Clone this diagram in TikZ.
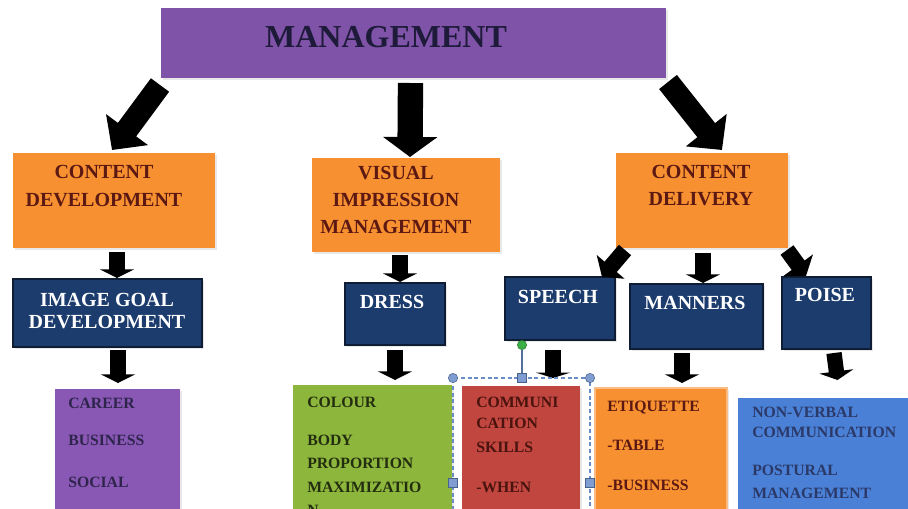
\documentclass[tikz,border=0pt]{standalone}
\usepackage{fontspec}
\setmainfont{Liberation Serif}
\usetikzlibrary{arrows.meta,calc,fit,shadows}

\definecolor{mgmtpurple}{RGB}{127,83,168}
\definecolor{boxorange}{RGB}{247,144,48}
\definecolor{boxnavy}{RGB}{28,60,110}
\definecolor{navyedge}{RGB}{14,28,52}
\definecolor{listpurple}{RGB}{137,88,181}
\definecolor{listgreen}{RGB}{141,182,60}
\definecolor{listred}{RGB}{192,70,63}
\definecolor{listblue}{RGB}{74,128,214}
\definecolor{maroontext}{RGB}{92,24,18}
\definecolor{inktext}{RGB}{30,27,58}
\definecolor{selblue}{RGB}{104,140,200}
\definecolor{handlegreen}{RGB}{60,176,70}

\begin{document}
\begin{tikzpicture}[x=0.75pt,y=-0.75pt,
  box/.style={inner sep=0pt, outer sep=0pt,
    drop shadow={shadow xshift=1.2pt, shadow yshift=-1.2pt, opacity=0.18}},
  navybox/.style={box, fill=boxnavy, draw=navyedge, line width=0.8pt},
  headtext/.style={inner sep=0pt, align=center, text=maroontext,
    font=\fontsize{15pt}{21pt}\selectfont\bfseries},
  navytext/.style={inner sep=0pt, align=center, text=white,
    font=\fontsize{15pt}{16.5pt}\selectfont\bfseries},
  listtext/.style={inner sep=0pt, anchor=base west,
    font=\fontsize{11.8pt}{14pt}\selectfont\bfseries},
  bigarrow/.style={line width=17pt, -{Triangle[length=19pt, width=38pt]}},
  smallarrow/.style={line width=11.5pt, -{Triangle[length=6.5pt, width=25.5pt]}},
  tiltarrow/.style={line width=12pt, -{Triangle[length=10pt, width=27pt]}},
  selline/.style={draw=selblue, line width=0.8pt, dash pattern=on 3pt off 2pt},
  handlecirc/.style={circle, fill=selblue!85, draw=selblue!70!black, line width=0.4pt,
    minimum size=7pt, inner sep=0pt},
  handlesq/.style={rectangle, fill=selblue!85, draw=selblue!70!black, line width=0.4pt,
    minimum size=7pt, inner sep=0pt}
]
\useasboundingbox (0,0) rectangle (908,508);
\clip (0,0) rectangle (908,508);
\fill[white] (0,0) rectangle (908,508);

% top level
\node[box, fill=mgmtpurple, fit={(161,8) (666,78)}] (mgmt) {};
\node[inner sep=0pt, text=inktext, font=\fontsize{24pt}{26pt}\selectfont\bfseries]
  (mgmtlbl) at (386,37) {MANAGEMENT};

% second level
\node[box, fill=boxorange, fit={(13,153) (215,248)}] (cdev) {};
\node[box, fill=boxorange, fit={(312,158) (500,252)}] (vim) {};
\node[box, fill=boxorange, fit={(616,153) (788,248)}] (cdel) {};
\node[headtext] (cdevlbl) at (104,186) {CONTENT\\DEVELOPMENT};
\node[headtext, font=\fontsize{15pt}{20.3pt}\selectfont\bfseries]
  (vimlbl) at (396,200) {VISUAL\\IMPRESSION\\MANAGEMENT};
\node[headtext, font=\fontsize{15pt}{20.3pt}\selectfont\bfseries]
  (cdellbl) at (701,185.5) {CONTENT\\DELIVERY};

% third level
\node[navybox, fit={(13,279) (202,347)}] (igd) {};
\node[navybox, fit={(345,283) (445,345)}] (dress) {};
\node[navybox, fit={(505,277) (615,340)}] (speech) {};
\node[navybox, fit={(630,284) (763,349)}] (manners) {};
\node[navybox, fit={(782,277) (871,349)}] (poise) {};
\node[navytext] (igdlbl) at (107,311) {IMAGE GOAL\\DEVELOPMENT};
\node[navytext] (dresslbl) at (392,302) {DRESS};
\node[navytext] (speechlbl) at (558,297) {SPEECH};
\node[navytext] (mannerslbl) at (695,303) {MANNERS};
\node[navytext] (poiselbl) at (825,295) {POISE};

% detail lists
\node[box, fill=listpurple, fit={(55,389) (180,520)}] (plist) {};
\node[box, fill=listgreen, fit={(293,385) (452,520)}] (glist) {};
\node[box, fill=listred, fit={(462,386) (580,520)}] (rlist) {};
\node[box, fill=boxorange, draw=boxorange!60!white, line width=0.8pt,
  fit={(595,388) (727,520)}] (olist) {};
\node[box, fill=listblue, fit={(738,398) (915,520)}] (blist) {};

\begin{scope}[text=inktext!85!listpurple]
\node[listtext] (p1) at (68,408) {CAREER};
\node[listtext] (p2) at (68,445) {BUSINESS};
\node[listtext] (p3) at (68,487) {SOCIAL};
\end{scope}
\begin{scope}[text=black!75!listgreen]
\node[listtext] (g1) at (307,407) {COLOUR};
\node[listtext] (g2) at (307,445) {BODY};
\node[listtext] (g3) at (307,468) {PROPORTION};
\node[listtext] (g4) at (307,492) {MAXIMIZATIO};
\node[listtext] (g5) at (307,515) {N};
\end{scope}
\begin{scope}[text=maroontext!80!black]
\node[listtext] (r1) at (476,407) {COMMUNI};
\node[listtext] (r2) at (476,428) {CATION};
\node[listtext] (r3) at (476,452) {SKILLS};
\node[listtext] (r4) at (476,492) {-WHEN};
\end{scope}
\begin{scope}[text=maroontext]
\node[listtext] (o1) at (607,411) {ETIQUETTE};
\node[listtext] (o2) at (607,450) {-TABLE};
\node[listtext] (o3) at (607,490) {-BUSINESS};
\end{scope}
\begin{scope}[text=inktext!70!listblue]
\node[listtext] (b1) at (752,417) {NON-VERBAL};
\node[listtext] (b2) at (752,437) {COMMUNICATION};
\node[listtext] (b3) at (752,475) {POSTURAL};
\node[listtext] (b4) at (752,498) {MANAGEMENT};
\end{scope}

% block arrows from the top box
\draw[bigarrow] ($(mgmt.south west)+(-1,7)$) -- ($(cdev.north)+(-2,-3)$);
\draw[bigarrow, line width=19pt, -{Triangle[length=15pt, width=40pt]}]
  ($(mgmt.south)+(-3,5)$) -- ($(vim.north)+(4,-1)$);
\draw[bigarrow] ($(mgmt.south east)+(2,4)$) -- ($(cdel.north east)+(-66,-3)$);

% arrows between the lower levels
\draw[smallarrow] ($(cdev.south)+(3,4)$) -- ($(igd.north)+(9.5,-1)$);
\draw[smallarrow] ($(vim.south)+(-6,3)$) -- ($(dress.north)+(5,-1)$);
\draw[tiltarrow] ($(cdel.south west)+(9,2)$) -- ($(speech.north east)+(-13,0)$);
\draw[smallarrow] ($(cdel.south)+(1,5)$) -- ($(manners.north)+(6.5,-1)$);
\draw[tiltarrow] ($(cdel.south east)+(-1,2)$) -- ($(poise.north west)+(24,-1)$);
\draw[smallarrow] ($(igd.south)+(10.5,3)$) -- ($(plist.north)+(0.5,-6)$);
\draw[smallarrow] ($(dress.south)+(0,5)$) -- ($(glist.north)+(22.5,-5)$);
\draw[smallarrow, -{Triangle[length=4pt, width=25.5pt]}]
  ($(speech.south)+(-7,10)$) -- ($(rlist.north)+(32,-8)$);
\draw[smallarrow] ($(manners.south)+(-14.5,4)$) -- ($(olist.north)+(21,-5)$);
\draw[smallarrow] ($(poise.south)+(7.5,4)$) -- ($(blist.north)+(11,-18)$);

% selection frame around the red list
\draw[selline] (453,530) -- (453,378) -- (590,378) -- (590,530);
\node[handlecirc] (hnw) at (453,378) {};
\node[handlecirc] (hne) at (590,378) {};
\node[handlesq] (hn) at (522,378) {};
\node[handlesq] (hw) at (453,483) {};
\node[handlesq] (he) at (590,483) {};
\node[circle, fill=handlegreen, draw=handlegreen!70!black, line width=0.4pt,
  minimum size=7pt, inner sep=0pt] (hrot) at (522,345) {};
\draw[selblue!80!black, line width=0.8pt] (hrot) -- (hn);
\end{tikzpicture}
\end{document}
